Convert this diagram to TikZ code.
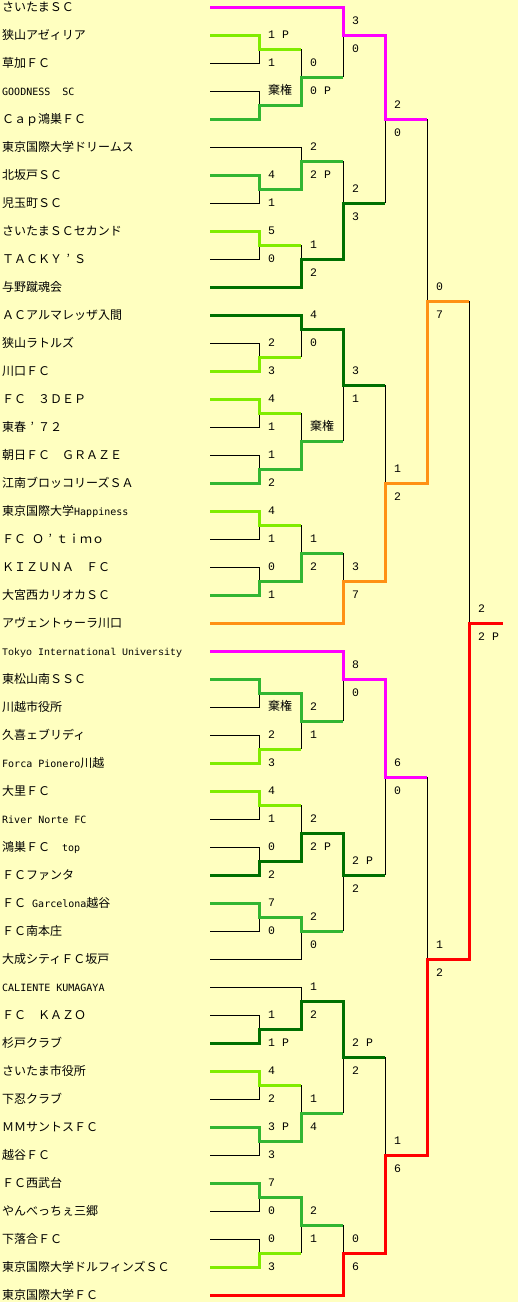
\documentclass[tikz,border=0pt]{standalone}
\usepackage{fontspec}
\setmainfont{Noto Sans CJK JP}
\newfontfamily\hwfont{DejaVu Sans Mono}
\newfontfamily\courfont{Liberation Mono}
\newcommand{\lat}[1]{{\fontsize{10pt}{10pt}\hwfont #1}}
\newcommand{\kiken}{{\fontsize{12pt}{12pt}\rmfamily 棄権}}
\newcommand{\fwq}{\makebox[12pt][c]{’}}
\definecolor{bgyellow}{RGB}{255,255,192}
\definecolor{cLime}{RGB}{128,236,0}
\definecolor{cGreen}{RGB}{50,182,50}
\definecolor{cDark}{RGB}{0,112,0}
\definecolor{cPink}{RGB}{255,0,255}
\definecolor{cOrange}{RGB}{255,145,20}
\definecolor{cRed}{RGB}{255,0,0}
\begin{document}
\begin{tikzpicture}[x=1pt,y=-1pt,
  team/.style={anchor=base west,inner sep=0pt,font=\fontsize{12pt}{12pt}\selectfont},
  score/.style={anchor=base west,inner sep=0pt,font=\fontsize{11.5pt}{11.5pt}\courfont},
  lose/.style={draw=black,line width=1pt},
  win/.style={line width=3pt,line join=miter},
  wlime/.style={win,draw=cLime},
  wgreen/.style={win,draw=cGreen},
  wdark/.style={win,draw=cDark},
  wpink/.style={win,draw=cPink},
  worange/.style={win,draw=cOrange},
  wred/.style={win,draw=cRed}]
\fill[bgyellow] (0,0) rectangle (518,1302);
\useasboundingbox (0,0) rectangle (518,1302);

% teams
\foreach \i/\n in {
 0/{さいたまＳＣ}, 1/{狭山アゼィリア}, 2/{草加ＦＣ}, 3/{\lat{GOODNESS}　\lat{SC}},
 4/{Ｃａｐ鴻巣ＦＣ}, 5/{東京国際大学ドリームス}, 6/{北坂戸ＳＣ}, 7/{児玉町ＳＣ},
 8/{さいたまＳＣセカンド}, 9/{ＴＡＣＫＹ\fwq Ｓ}, 10/{与野蹴魂会}, 11/{ＡＣアルマレッザ入間},
 12/{狭山ラトルズ}, 13/{川口ＦＣ}, 14/{ＦＣ　３ＤＥＰ}, 15/{東春\fwq ７２},
 16/{朝日ＦＣ　ＧＲＡＺＥ}, 17/{江南ブロッコリーズＳＡ}, 18/{東京国際大学\lat{Happiness}},
 19/{ＦＣ\hspace{6pt}Ｏ\fwq ｔｉｍｏ}, 20/{ＫＩＺＵＮＡ　ＦＣ}, 21/{大宮西カリオカＳＣ},
 22/{アヴェントゥーラ川口}, 23/{{\fontsize{10pt}{10pt}\courfont Tokyo International University}},
 24/{東松山南ＳＳＣ}, 25/{川越市役所}, 26/{久喜ェブリディ}, 27/{\lat{Forca Pionero}川越},
 28/{大里ＦＣ}, 29/{\lat{River Norte FC}}, 30/{鴻巣ＦＣ　\lat{top}}, 31/{ＦＣファンタ},
 32/{ＦＣ\lat{\ Garcelona}越谷}, 33/{ＦＣ南本庄}, 34/{大成シティＦＣ坂戸},
 35/{\lat{CALIENTE KUMAGAYA}}, 36/{ＦＣ　ＫＡＺＯ}, 37/{杉戸クラブ}, 38/{さいたま市役所},
 39/{下忍クラブ}, 40/{ＭＭサントスＦＣ}, 41/{越谷ＦＣ}, 42/{ＦＣ西武台},
 43/{やんべっちぇ三郷}, 44/{下落合ＦＣ}, 45/{東京国際大学ドルフィンズＳＣ}, 46/{東京国際大学ＦＣ}}
{
  \node[team] (t\i) at (2,{11.5+28*\i}) {\n};
  \coordinate (s\i) at (210,{7+28*\i});
}

% match junctions
\foreach \m/\x/\y in {
 a1/259/49, a2/259/105, a3/259/189, a4/259/245, a5/259/357, a6/259/413, a7/259/469,
 a8/259/525, a9/259/581, a10/259/693, a11/259/749, a12/259/805, a13/259/861, a14/259/917,
 a15/259/1029, a16/259/1085, a17/259/1141, a18/259/1197, a19/259/1253,
 b1/301/77, b2/301/161, b3/301/259, b4/301/329, b5/301/441, b6/301/553, b7/301/721,
 b8/301/833, b9/301/931, b10/301/1001, b11/301/1113, b12/301/1225,
 c1/343/35, c2/343/203, c3/343/385, c4/343/581, c5/343/679, c6/343/875, c7/343/1057, c8/343/1253,
 d1/385/119, d2/385/483, d3/385/777, d4/385/1155,
 e1/427/301, e2/427/959, f/469/623, champ/503/623}
{ \coordinate (\m) at (\x,\y); }

% losers of their first match
\foreach \p/\q in {s2/a1, s3/a2, s5/b2, s7/a3, s9/a4, s12/a5, s15/a6, s16/a7, s19/a8,
 s20/a9, s25/a10, s26/a11, s29/a12, s30/a13, s33/a14, s34/b9, s35/b10, s36/a15, s39/a16,
 s41/a17, s43/a18, s44/a19}
{ \draw[lose] (\p) -| (\q); }

% black verticals of lost matches
\foreach \p/\q in {d1/e1, d3/e2, e1/f, c2/d1, c3/d2, c6/d3, c7/d4, b1/c1, b2/c2, b5/c3,
 b6/c4, b7/c5, b9/c6, b11/c7, b12/c8, a1/b1, a4/b3, a5/b4, a6/b5, a8/b6, a11/b7, a12/b8,
 a16/b11, a19/b12}
{ \draw[lose] (\p -| \q) -- (\q); }

% lime (reached round 2)
\draw[wlime] (s1) -| (a1) -- (a1 -| b1);
\draw[wlime] (s8) -| (a4) -- (a4 -| b3);
\draw[wlime] (s13) -| (a5) -- (a5 -| b4);
\draw[wlime] (s14) -| (a6) -- (a6 -| b5);
\draw[wlime] (s18) -| (a8) -- (a8 -| b6);
\draw[wlime] (s27) -| (a11) -- (a11 -| b7);
\draw[wlime] (s28) -| (a12) -- (a12 -| b8);
\draw[wlime] (s38) -| (a16) -- (a16 -| b11);
\draw[wlime] (s45) -| (a19) -- (a19 -| b12);
% green (reached round 3)
\draw[wgreen] (s4) -| (a2) -| (b1) -- (b1 -| c1);
\draw[wgreen] (s6) -| (a3) -| (b2) -- (b2 -| c2);
\draw[wgreen] (s17) -| (a7) -| (b5) -- (b5 -| c3);
\draw[wgreen] (s21) -| (a9) -| (b6) -- (b6 -| c4);
\draw[wgreen] (s24) -| (a10) -| (b7) -- (b7 -| c5);
\draw[wgreen] (s32) -| (a14) -| (b9) -- (b9 -| c6);
\draw[wgreen] (s40) -| (a17) -| (b11) -- (b11 -| c7);
\draw[wgreen] (s42) -| (a18) -| (b12) -- (b12 -| c8);
% dark green (reached round 4)
\draw[wdark] (s10) -| (b3) -| (c2) -- (c2 -| d1);
\draw[wdark] (s11) -| (b4) -| (c3) -- (c3 -| d2);
\draw[wdark] (s31) -| (a13) -| (b8) -| (c6) -- (c6 -| d3);
\draw[wdark] (s37) -| (a15) -| (b10) -| (c7) -- (c7 -| d4);
% pink (reached round 5)
\draw[wpink] (s0) -| (c1) -| (d1) -- (d1 -| e1);
\draw[wpink] (s23) -| (c5) -| (d3) -- (d3 -| e2);
% orange (finalist)
\draw[worange] (s22) -| (c4) -| (d2) -| (e1) -- (e1 -| f);
% red (champion)
\draw[wred] (s46) -| (c8) -| (d4) -| (e2) -| (f) -- (champ);

% scores above the junction
\foreach \m/\t in {a1/{1 P}, a2/\kiken, a3/4, a4/5, a5/2, a6/4, a7/1, a8/4, a9/0, a11/2,
 a12/4, a13/0, a14/7, a15/1, a16/4, a17/{3 P}, a18/7, a19/0,
 b1/0, b2/2, b3/1, b4/4, b5/\kiken, b6/1, b7/2, b8/2, b9/2, b10/1, b11/1, b12/2,
 c1/3, c2/2, c3/3, c4/3, c5/8, c6/{2 P}, c7/{2 P}, c8/0,
 d1/2, d2/1, d3/6, d4/1, e1/0, e2/1, f/2}
{ \node[score] (\m-u) at ([xshift=9pt,yshift=11pt]\m) {\t}; }

% scores below the junction
\foreach \m/\t in {a1/1, a3/1, a4/0, a5/3, a6/1, a7/2, a8/1, a9/1, a10/\kiken, a11/3,
 a12/1, a13/2, a14/0, a15/{1 P}, a16/2, a17/3, a18/0, a19/3,
 b1/{0 P}, b2/{2 P}, b3/2, b4/0, b6/2, b7/1, b8/{2 P}, b9/0, b10/2, b11/4, b12/1,
 c1/0, c2/3, c3/1, c4/7, c5/0, c6/2, c7/2, c8/6,
 d1/0, d2/2, d3/0, d4/6, e1/7, e2/2, f/{2 P}}
{ \node[score] (\m-d) at ([xshift=9pt,yshift=-17pt]\m) {\t}; }
\end{tikzpicture}
\end{document}
